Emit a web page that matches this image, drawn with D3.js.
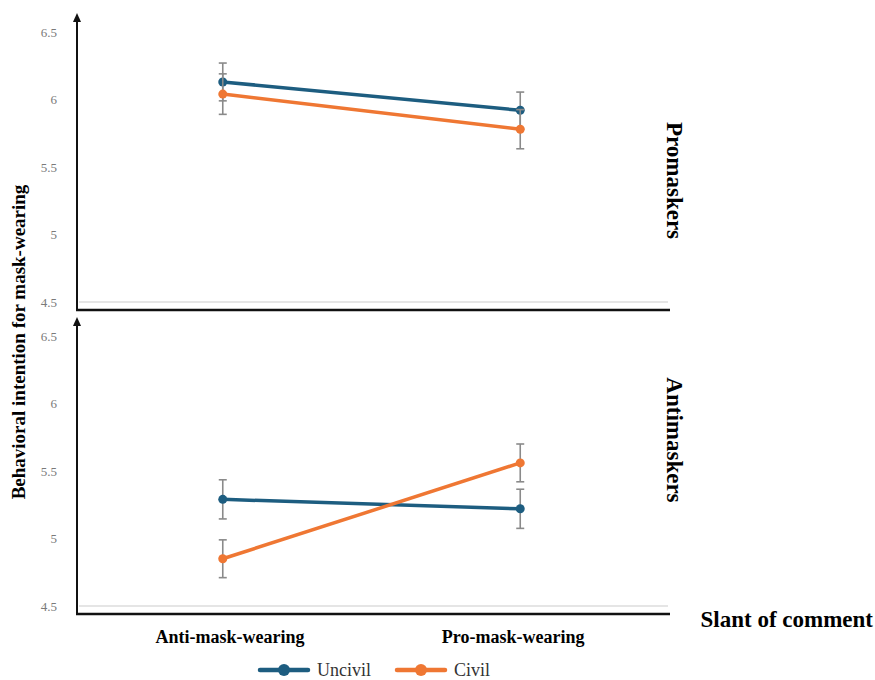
<!DOCTYPE html>
<html lang="en">
  <head>
    <meta charset="utf-8">
    <title>Mask-wearing intention</title>
    <style>
      body { margin: 0; background: #fff; }
      text { font-family: "Liberation Serif", "Times New Roman", serif; }
    </style>
  </head>
  <body>
    <svg class="chart"></svg>

    <script src="https://d3js.org/d3.v7.min.js"></script>
    <script type="text/javascript">
      // data
      var slants = ['Anti-mask-wearing', 'Pro-mask-wearing'];
      var groups = ['Promaskers', 'Antimaskers'];
      var conditions = ['Uncivil', 'Civil'];
      var colors = ['#1d5d80', '#ef7733'];
      var yTicks = [4.5, 5, 5.5, 6, 6.5];

      // means per group, one per slant
      var promUncivil = [6.13, 5.92];
      var promCivil = [6.04, 5.78];
      var antiUncivil = [5.29, 5.22];
      var antiCivil = [4.85, 5.56];
      // error half widths
      var promUncivilErr = [0.14, 0.135];
      var promCivilErr = [0.15, 0.145];
      var antiUncivilErr = [0.145, 0.145];
      var antiCivilErr = [0.14, 0.14];

      var panels = [
        { group: groups[0], top: 32, labelAt: 5.4, means: [promUncivil, promCivil], errs: [promUncivilErr, promCivilErr] },
        { group: groups[1], top: 336, labelAt: 5.73, means: [antiUncivil, antiCivil], errs: [antiUncivilErr, antiCivilErr] }
      ];

      var w = 875, h = 680;
      var axisLeft = 77, axisRight = 670;

      var svg = d3.select('.chart')
                  .attr('width', w)
                  .attr('height', h)
                  .attr('font-family', '"Liberation Serif", "Times New Roman", serif');

      var x = d3.scalePoint()
                .domain(slants)
                .range([axisLeft, axisRight - 4])
                .padding(0.49);

      // category labels sit a little closer together than the points
      var xLabel = d3.scalePoint()
                     .domain(slants)
                     .range([axisLeft, axisRight - 4])
                     .padding(0.54);

      panels.forEach(function(p) {
        var y = d3.scaleLinear()
                  .domain([4.5, 6.5])
                  .range([p.top + 270, p.top]);
        var g = svg.append('g');
        var baseY = y(4.44);

        // light grid line at 4.5
        g.append('line')
         .attr('x1', axisLeft + 2).attr('x2', axisRight - 2)
         .attr('y1', y(4.5)).attr('y2', y(4.5))
         .attr('stroke', '#dcdcdc').attr('stroke-width', 1.5);

        // tick labels
        g.selectAll('text.tick')
         .data(yTicks)
         .enter()
         .append('text')
         .attr('class', 'tick')
         .attr('x', 57)
         .attr('y', function(d) { return y(d); })
         .attr('dy', '0.35em')
         .attr('text-anchor', 'end')
         .attr('fill', '#7a7a7a')
         .style('font-size', '13px')
         .text(function(d) { return d; });

        // axes
        g.append('line')
         .attr('x1', axisLeft).attr('x2', axisLeft)
         .attr('y1', baseY).attr('y2', y(6.5) - 12)
         .attr('stroke', '#111').attr('stroke-width', 2);
        g.append('path')
         .attr('d', 'M' + (axisLeft - 4) + ',' + (y(6.5) - 10) + 'L' + axisLeft + ',' + (y(6.5) - 19) + 'L' + (axisLeft + 4) + ',' + (y(6.5) - 10) + 'Z')
         .attr('fill', '#111');
        g.append('line')
         .attr('x1', axisLeft - 1).attr('x2', axisRight)
         .attr('y1', baseY).attr('y2', baseY)
         .attr('stroke', '#111').attr('stroke-width', 2.5);

        // facet label
        g.append('text')
         .attr('transform', 'translate(667,' + y(p.labelAt) + ') rotate(90)')
         .attr('text-anchor', 'middle')
         .style('font-size', '23px')
         .style('font-weight', 'bold')
         .text(p.group);

        conditions.forEach(function(c, i) {
          var pts = slants.map(function(s, j) {
            return { s: s, v: p.means[i][j], e: p.errs[i][j] };
          });

          // error bars
          var eb = g.selectAll('g.err' + i)
                    .data(pts)
                    .enter()
                    .append('g')
                    .attr('stroke', '#8a8a8a')
                    .attr('stroke-width', 1.6);
          eb.append('line')
            .attr('x1', function(d) { return x(d.s); })
            .attr('x2', function(d) { return x(d.s); })
            .attr('y1', function(d) { return y(d.v + d.e); })
            .attr('y2', function(d) { return y(d.v - d.e); });
          eb.append('line')
            .attr('x1', function(d) { return x(d.s) - 4; })
            .attr('x2', function(d) { return x(d.s) + 4; })
            .attr('y1', function(d) { return y(d.v + d.e); })
            .attr('y2', function(d) { return y(d.v + d.e); });
          eb.append('line')
            .attr('x1', function(d) { return x(d.s) - 4; })
            .attr('x2', function(d) { return x(d.s) + 4; })
            .attr('y1', function(d) { return y(d.v - d.e); })
            .attr('y2', function(d) { return y(d.v - d.e); });

          g.append('path')
           .datum(pts)
           .attr('fill', 'none')
           .attr('stroke', colors[i])
           .attr('stroke-width', 3.5)
           .attr('d', d3.line()
                        .x(function(d) { return x(d.s); })
                        .y(function(d) { return y(d.v); }));

          g.selectAll('circle.c' + i)
           .data(pts)
           .enter()
           .append('circle')
           .attr('cx', function(d) { return x(d.s); })
           .attr('cy', function(d) { return y(d.v); })
           .attr('r', 4.5)
           .attr('fill', colors[i]);
        });
      });

      // y title
      svg.append('text')
         .attr('transform', 'translate(25,342) rotate(-90)')
         .attr('text-anchor', 'middle')
         .style('font-size', '19px')
         .style('font-weight', 'bold')
         .text('Behavioral intention for mask-wearing');

      // category labels
      svg.selectAll('text.cat')
         .data(slants)
         .enter()
         .append('text')
         .attr('class', 'cat')
         .attr('x', function(d) { return xLabel(d); })
         .attr('y', 643)
         .attr('text-anchor', 'middle')
         .style('font-size', '18px')
         .style('font-weight', 'bold')
         .text(function(d) { return d; });

      svg.append('text')
         .attr('x', 873)
         .attr('y', 627)
         .attr('text-anchor', 'end')
         .style('font-size', '23px')
         .style('font-weight', 'bold')
         .text('Slant of comment');

      // legend
      var legendX = [260, 397];
      var lg = svg.selectAll('g.legend')
                  .data(conditions)
                  .enter()
                  .append('g')
                  .attr('transform', function(d, i) { return 'translate(' + legendX[i] + ',670)'; });
      lg.append('line')
        .attr('x1', 0).attr('x2', 48)
        .attr('stroke', function(d, i) { return colors[i]; })
        .attr('stroke-width', 4.5)
        .attr('stroke-linecap', 'round');
      lg.append('circle')
        .attr('cx', 24).attr('r', 6)
        .attr('fill', function(d, i) { return colors[i]; });
      lg.append('text')
        .attr('x', 57)
        .attr('dy', '0.35em')
        .attr('fill', '#333')
        .style('font-size', '18px')
        .text(function(d) { return d; });
    </script>
  </body>
</html>
